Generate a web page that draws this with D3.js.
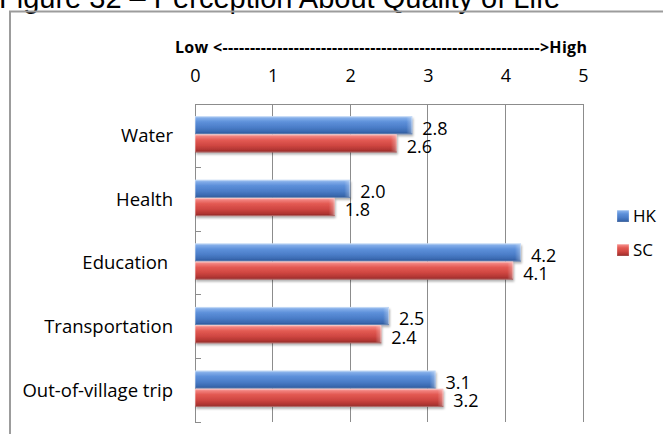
<!DOCTYPE html>
<html>
<head>
<meta charset="utf-8">
<script src="https://cdn.jsdelivr.net/npm/d3@7"></script>
<style>
  html, body { margin: 0; padding: 0; background: #ffffff; }
  svg { display: block; }
  text { font-family: "Open Sans", "DejaVu Sans", sans-serif; fill: #000; }
</style>
</head>
<body>
<svg id="chart" width="663" height="434"></svg>
<script>
// Perception scores by service, two groups
const categories = ["Water", "Health", "Education ", "Transportation", "Out-of-village trip"];
const seriesNames = ["HK", "SC"];
const hkValues = [2.8, 2.0, 4.2, 2.5, 3.1];
const scValues = [2.6, 1.8, 4.1, 2.4, 3.2];
const tickValues = [0, 1, 2, 3, 4, 5];
const scaleCaption = "Low <" + "-".repeat(58) + ">High";
const titleText = "Figure 32 \u2013 Perception About Quality of Life";

const svg = d3.select("#chart");
const W = 663, H = 434;
const labelSize = "18.5px";

const x = d3.scaleLinear().domain([0, 5]).range([195, 583]);
const y = d3.scaleBand().domain(categories).range([104, 422]).paddingInner(0).paddingOuter(0);

const barH = y.bandwidth() / 3.5;
const groupShift = -1.5;

// gradients and shadow
const defs = svg.append("defs");
const palettes = {
  HK: [["0", "#b4d0f4"], ["0.12", "#80abe8"], ["0.32", "#5d90da"], ["0.62", "#4b7dc8"], ["0.86", "#3a69b0"], ["1", "#27508e"]],
  SC: [["0", "#fab6b3"], ["0.12", "#f1807c"], ["0.32", "#e35a53"], ["0.62", "#cf4641"], ["0.86", "#b03532"], ["1", "#862523"]]
};
Object.entries(palettes).forEach(([k, stops]) => {
  const g = defs.append("linearGradient").attr("id", "grad-" + k)
    .attr("x1", 0).attr("y1", 0).attr("x2", 0).attr("y2", 1);
  stops.forEach(([o, c]) => g.append("stop").attr("offset", o).attr("stop-color", c));
});
const endGrad = defs.append("linearGradient").attr("id", "endcap")
  .attr("x1", 0).attr("y1", 0).attr("x2", 1).attr("y2", 0);
endGrad.append("stop").attr("offset", "0").attr("stop-color", "#fff").attr("stop-opacity", 0);
endGrad.append("stop").attr("offset", "1").attr("stop-color", "#fff").attr("stop-opacity", 0.35);

const shadow = defs.append("filter").attr("id", "shadow")
  .attr("x", "-5%").attr("y", "-20%").attr("width", "115%").attr("height", "160%");
shadow.append("feDropShadow").attr("dx", 1).attr("dy", 2).attr("stdDeviation", 1.2)
  .attr("flood-color", "#000").attr("flood-opacity", 0.3);

// title (sits above the chart frame, partly off the top edge)
svg.append("text")
  .attr("x", -1).attr("y", 7.5)
  .style("font-family", "'Liberation Sans', Arial, sans-serif")
  .style("font-size", "29px")
  .text(titleText);

// chart frame
svg.append("rect")
  .attr("x", 10).attr("y", 11.5).attr("width", W + 20).attr("height", H + 20)
  .attr("fill", "none").attr("stroke", "#9c9c9c").attr("stroke-width", 2);

// scale caption
svg.append("text")
  .attr("x", 175).attr("y", 52.7)
  .attr("textLength", 412).attr("lengthAdjust", "spacing")
  .style("font-weight", "bold").style("font-size", "16px")
  .text(scaleCaption);

// vertical gridlines
svg.append("g").selectAll("line")
  .data(tickValues.filter(d => d > 0))
  .join("line")
  .attr("x1", d => x(d)).attr("x2", d => x(d))
  .attr("y1", 104).attr("y2", 422)
  .attr("stroke", "#8c8c8c").attr("stroke-width", 1)
  .attr("shape-rendering", "crispEdges");

// value axis along the top
const xAxis = svg.append("g")
  .attr("transform", "translate(0,104)")
  .call(d3.axisTop(x).tickValues(tickValues).tickFormat(d3.format("d")).tickSize(0).tickPadding(22.3));
xAxis.select(".domain").attr("stroke", "#8c8c8c").attr("shape-rendering", "crispEdges");
xAxis.selectAll("text").style("font-size", "18px").style("font-family", "'Open Sans', sans-serif");

// category axis on the left
const yAxis = svg.append("g")
  .attr("transform", "translate(195,0)")
  .call(d3.axisLeft(y).tickSize(0).tickPadding(22));
yAxis.select(".domain").remove();
yAxis.selectAll("text")
  .style("font-size", labelSize).style("font-family", "'Open Sans', sans-serif")
  .style("white-space", "pre").attr("dy", "0.35em");

svg.append("line")
  .attr("x1", x(0)).attr("x2", x(0)).attr("y1", 104).attr("y2", 422)
  .attr("stroke", "#8c8c8c").attr("shape-rendering", "crispEdges");

// boundary ticks between categories
const bounds = categories.map(c => y(c)).concat([y.range()[1]]);
svg.append("g").selectAll("line")
  .data(bounds)
  .join("line")
  .attr("x1", x(0)).attr("x2", x(0) + 6)
  .attr("y1", d => d).attr("y2", d => d)
  .attr("stroke", "#8c8c8c").attr("shape-rendering", "crispEdges");

// bars
const rows = categories.map((c, i) => ({ c, HK: hkValues[i], SC: scValues[i] }));
const barData = rows.flatMap(r => seriesNames.map((s, j) => ({ c: r.c, s, j, v: r[s] })));
const barTop = d => y(d.c) + y.bandwidth() / 2 + groupShift - barH + d.j * barH;

const bars = svg.append("g").selectAll("g.bar")
  .data(barData)
  .join("g").attr("class", "bar");

bars.append("rect")
  .attr("x", x(0)).attr("y", barTop)
  .attr("width", d => x(d.v) - x(0)).attr("height", barH)
  .attr("fill", d => "url(#grad-" + d.s + ")")
  .attr("filter", "url(#shadow)");
bars.append("rect")
  .attr("x", d => x(d.v) - 6).attr("y", d => barTop(d) + 1)
  .attr("width", 6).attr("height", barH - 2)
  .attr("fill", "url(#endcap)");
bars.append("rect")
  .attr("x", x(0) + 0.5).attr("y", d => barTop(d) + 0.5)
  .attr("width", d => x(d.v) - x(0) - 1).attr("height", barH - 1)
  .attr("fill", "none").attr("stroke", "#ffffff").attr("stroke-opacity", 0.3);

// value labels
svg.append("g").selectAll("text")
  .data(barData)
  .join("text")
  .attr("x", d => x(d.v) + 10)
  .attr("y", d => barTop(d) + barH + 0.3)
  .style("font-size", "18px")
  .text(d => d3.format(".1f")(d.v));

// legend
const legend = svg.append("g").selectAll("g")
  .data(seriesNames)
  .join("g")
  .attr("transform", (d, i) => `translate(617,${210 + i * 34})`);
legend.append("rect")
  .attr("width", 12).attr("height", 12)
  .attr("fill", d => "url(#grad-" + d + ")")
  .attr("stroke", "#ffffff").attr("stroke-opacity", 0.3);
legend.append("text")
  .attr("x", 16).attr("y", 6).attr("dy", "0.35em")
  .style("font-size", "17px")
  .text(d => d);
</script>
</body>
</html>
